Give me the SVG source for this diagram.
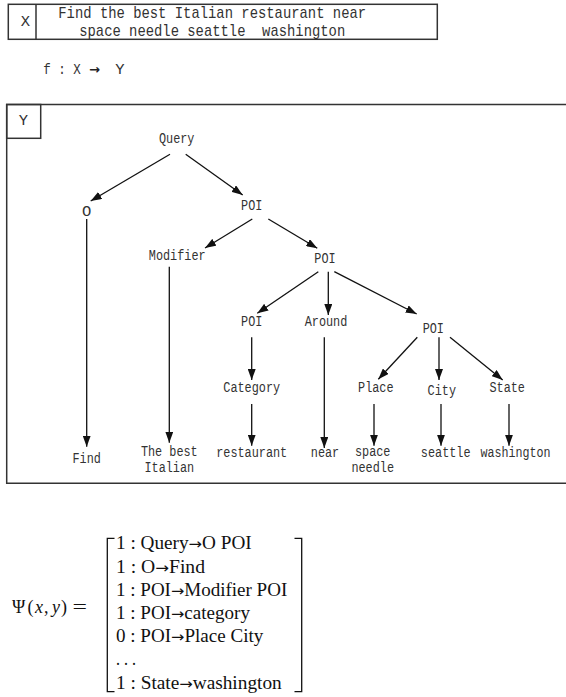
<svg xmlns="http://www.w3.org/2000/svg" width="566" height="697" viewBox="0 0 566 697">
<style>
.box{fill:none;stroke:#333;stroke-width:1.5}
.t{font-family:"Liberation Mono","DejaVu Sans Mono",monospace;font-size:15.5px;fill:#333;text-anchor:middle}
.tt{font-family:"Liberation Mono","DejaVu Sans Mono",monospace;font-size:17px;fill:#333;text-anchor:middle}
.c line{stroke:#111;stroke-width:1.3;marker-end:url(#ah)}
.m{font-family:"Liberation Serif","Times New Roman",serif;font-size:18px;fill:#111}
.a{font-family:"DejaVu Sans",sans-serif;font-size:15px}
.br{fill:none;stroke:#111;stroke-width:1.3}
</style>
<defs>
<marker id="ah" viewBox="0 0 11 8" refX="11" refY="4" markerWidth="11" markerHeight="8" markerUnits="userSpaceOnUse" orient="auto">
<path d="M0,0 L11,4 L0,8 z" fill="#111"/>
</marker>
</defs>
<rect width="566" height="697" fill="#fff"/>

<g id="input-x">
<rect class="box" x="8.3" y="4.3" width="429" height="35"/>
<line class="box" x1="36" y1="4.3" x2="36" y2="39.3"/>
<text class="t" x="25.5" y="26">X</text>
<text class="tt" x="212.2" y="17.5" textLength="307.8" lengthAdjust="spacingAndGlyphs">Find the best Italian restaurant near</text>
<text class="tt" x="212.2" y="35.5" xml:space="preserve" textLength="266" lengthAdjust="spacingAndGlyphs">space needle seattle  washington</text>
</g>

<g id="mapping">
<text class="t" style="text-anchor:start" x="43.3" y="74" textLength="37.5" lengthAdjust="spacingAndGlyphs">f : X</text>
<text x="94.5" y="74" style="font-family:'DejaVu Sans',sans-serif;font-size:13px;font-weight:bold;fill:#222;text-anchor:middle">→</text>
<text class="t" x="119.8" y="74">Y</text>
</g>

<g id="output-y">
<path class="box" d="M566,104.5 H6.7 V483.3 H566"/>
<rect class="box" x="6.7" y="104.5" width="34" height="33.8"/>
<text class="t" x="23.5" y="125">Y</text>
</g>

<g id="n-query"><text class="t" x="176.7" y="142.5" textLength="35.5" lengthAdjust="spacingAndGlyphs">Query</text></g>
<g id="n-o"><text class="t" x="86.7" y="215.7">O</text></g>
<g id="n-poi1"><text class="t" x="251.7" y="210" textLength="21.3" lengthAdjust="spacingAndGlyphs">POI</text></g>
<g id="n-modifier"><text class="t" x="177.2" y="260" textLength="56.8" lengthAdjust="spacingAndGlyphs">Modifier</text></g>
<g id="n-poi2"><text class="t" x="325" y="263.3" textLength="21.3" lengthAdjust="spacingAndGlyphs">POI</text></g>
<g id="n-poi3"><text class="t" x="251.7" y="326" textLength="21.3" lengthAdjust="spacingAndGlyphs">POI</text></g>
<g id="n-around"><text class="t" x="326" y="326" textLength="42.6" lengthAdjust="spacingAndGlyphs">Around</text></g>
<g id="n-poi4"><text class="t" x="433.3" y="333.3" textLength="21.3" lengthAdjust="spacingAndGlyphs">POI</text></g>
<g id="n-category"><text class="t" x="251.7" y="391.7" textLength="56.8" lengthAdjust="spacingAndGlyphs">Category</text></g>
<g id="n-place"><text class="t" x="375.8" y="391.7" textLength="35.5" lengthAdjust="spacingAndGlyphs">Place</text></g>
<g id="n-city"><text class="t" x="441.8" y="395" textLength="28.4" lengthAdjust="spacingAndGlyphs">City</text></g>
<g id="n-state"><text class="t" x="507.2" y="391.7" textLength="35.5" lengthAdjust="spacingAndGlyphs">State</text></g>
<g id="n-find"><text class="t" x="86.7" y="463" textLength="28.4" lengthAdjust="spacingAndGlyphs">Find</text></g>
<g id="n-thebest"><text class="t" x="169.3" y="456" textLength="56.8" lengthAdjust="spacingAndGlyphs">The best</text><text class="t" x="169.3" y="471.7" textLength="49.7" lengthAdjust="spacingAndGlyphs">Italian</text></g>
<g id="n-restaurant"><text class="t" x="251.7" y="457.3" textLength="71" lengthAdjust="spacingAndGlyphs">restaurant</text></g>
<g id="n-near"><text class="t" x="325" y="457.3" textLength="28.4" lengthAdjust="spacingAndGlyphs">near</text></g>
<g id="n-spaceneedle"><text class="t" x="372.7" y="456" textLength="35.5" lengthAdjust="spacingAndGlyphs">space</text><text class="t" x="372.7" y="471.7" textLength="42.6" lengthAdjust="spacingAndGlyphs">needle</text></g>
<g id="n-seattle"><text class="t" x="445.7" y="457" textLength="49.7" lengthAdjust="spacingAndGlyphs">seattle</text></g>
<g id="n-washington"><text class="t" x="515.5" y="457" textLength="70" lengthAdjust="spacingAndGlyphs">washington</text></g>

<g id="connectors" class="c">
<line x1="170" y1="154.3" x2="90.7" y2="201"/>
<line x1="185.7" y1="154.3" x2="242.7" y2="195"/>
<line x1="86.7" y1="219" x2="86.7" y2="446.7"/>
<line x1="252.3" y1="219" x2="205" y2="248"/>
<line x1="268.3" y1="219" x2="317.3" y2="248.3"/>
<line x1="169.3" y1="266.7" x2="169.3" y2="442.7"/>
<line x1="318.3" y1="271.7" x2="257.3" y2="313.3"/>
<line x1="328.3" y1="271.7" x2="328.3" y2="315"/>
<line x1="334.3" y1="271.7" x2="416.7" y2="314"/>
<line x1="251.7" y1="337.3" x2="251.7" y2="380"/>
<line x1="324.3" y1="337.3" x2="324.3" y2="448"/>
<line x1="417.3" y1="337.3" x2="378.3" y2="379.3"/>
<line x1="439" y1="337.3" x2="439" y2="380"/>
<line x1="450" y1="337.3" x2="502.7" y2="380"/>
<line x1="251.7" y1="404" x2="251.7" y2="445.7"/>
<line x1="374" y1="404" x2="374" y2="445.7"/>
<line x1="441" y1="404" x2="441" y2="445.7"/>
<line x1="509" y1="404" x2="509" y2="445.7"/>
</g>

<g id="formula">
<text class="m" x="12" y="613">Ψ</text>
<text class="m" x="27.5" y="613">(</text>
<text class="m" x="35" y="613" font-style="italic">x</text>
<text class="m" x="44" y="613">,</text>
<text class="m" x="52" y="613" font-style="italic">y</text>
<text class="m" x="61" y="613">)</text>
<text class="m" x="72.5" y="613" textLength="14.5" lengthAdjust="spacingAndGlyphs">=</text>
<path class="br" d="M114.5,538.3 H107.3 V691.7 H114.5"/>
<path class="br" d="M294.5,538.3 H301.7 V691.7 H294.5"/>
<text class="m" x="116" y="549.3" textLength="135.7" lengthAdjust="spacingAndGlyphs">1 : Query<tspan class="a">→</tspan>O POI</text>
<text class="m" x="116" y="572.5" textLength="89" lengthAdjust="spacingAndGlyphs">1 : O<tspan class="a">→</tspan>Find</text>
<text class="m" x="116" y="595.7" textLength="171.3" lengthAdjust="spacingAndGlyphs">1 : POI<tspan class="a">→</tspan>Modifier POI</text>
<text class="m" x="116" y="618.9" textLength="134" lengthAdjust="spacingAndGlyphs">1 : POI<tspan class="a">→</tspan>category</text>
<text class="m" x="116" y="642.1" textLength="147.3" lengthAdjust="spacingAndGlyphs">0 : POI<tspan class="a">→</tspan>Place City</text>
<text class="m" x="116" y="665.3" textLength="20" lengthAdjust="spacingAndGlyphs">. . .</text>
<text class="m" x="116" y="688.5" textLength="165.7" lengthAdjust="spacingAndGlyphs">1 : State<tspan class="a">→</tspan>washington</text>
</g>
</svg>
